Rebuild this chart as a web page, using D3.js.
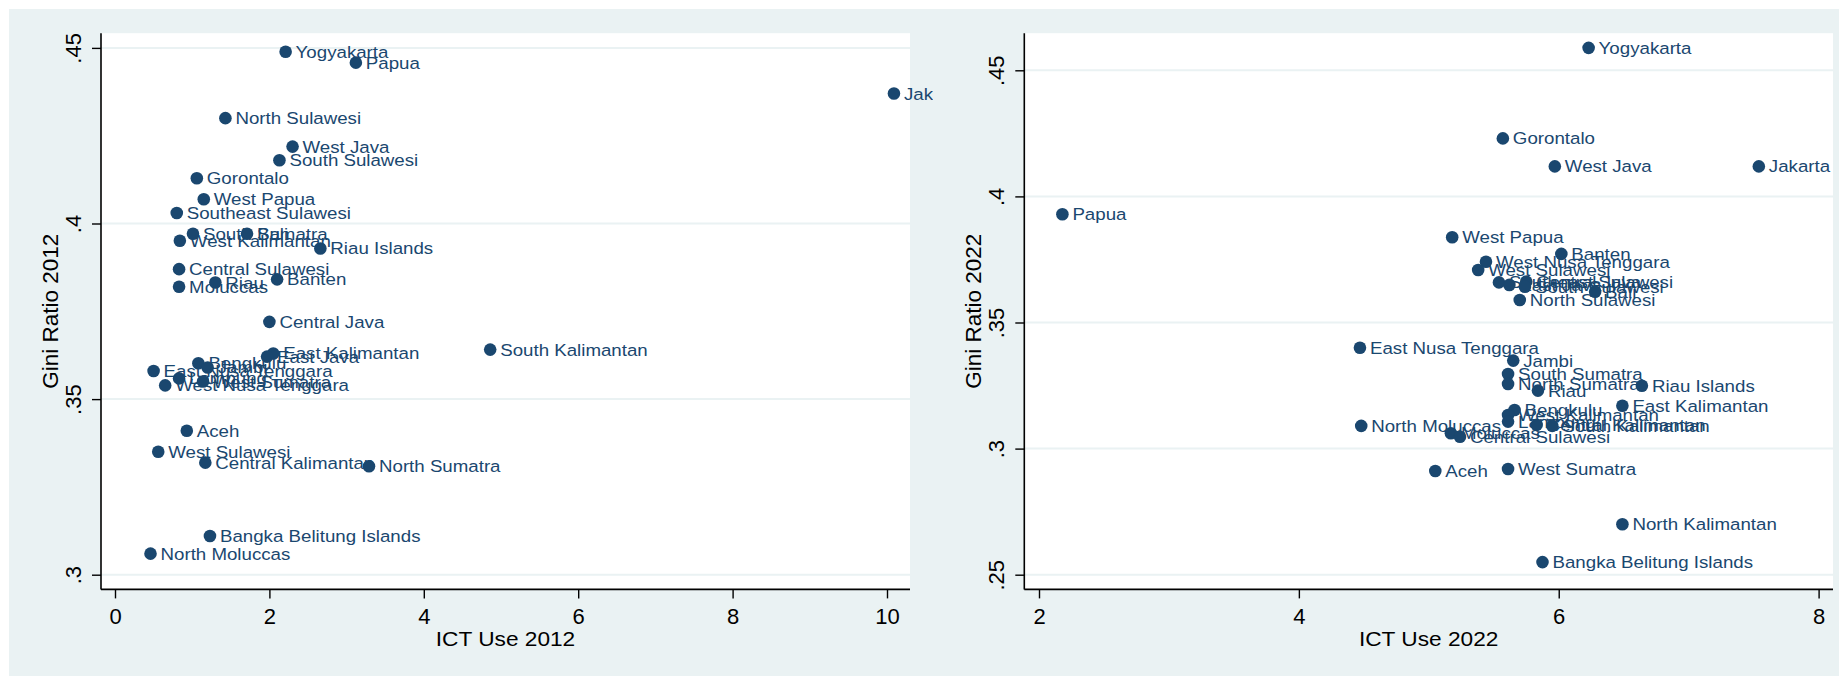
<!DOCTYPE html>
<html>
<head>
<meta charset="utf-8">
<script src="https://cdn.jsdelivr.net/npm/d3@7"></script>
<style>
  html, body { margin: 0; padding: 0; background: #ffffff; }
  svg { display: block; }
  text { font-family: "Liberation Sans", Arial, sans-serif; }
</style>
</head>
<body>
<svg id="chart" width="1839" height="676"></svg>
<script>
// ---- 2012 panel data ----
const provinces2012 = [
  "Yogyakarta", "Papua", "Jakarta", "North Sulawesi", "West Java", "South Sulawesi",
  "Gorontalo", "West Papua", "Southeast Sulawesi", "South Sumatra", "Bali",
  "West Kalimantan", "Riau Islands", "Central Sulawesi", "Riau", "Moluccas", "Banten",
  "Central Java", "East Kalimantan", "East Java", "South Kalimantan", "Bengkulu",
  "Jambi", "East Nusa Tenggara", "Lampung", "West Sumatra", "West Nusa Tenggara",
  "Aceh", "West Sulawesi", "Central Kalimantan", "North Sumatra",
  "Bangka Belitung Islands", "North Moluccas"
];
const ict2012 = [
  2.21, 3.12, 10.09, 1.43, 2.30, 2.13,
  1.06, 1.15, 0.80, 1.01, 1.71,
  0.84, 2.66, 0.83, 1.30, 0.83, 2.10,
  2.00, 2.05, 1.97, 4.86, 1.08,
  1.20, 0.50, 0.83, 1.14, 0.65,
  0.93, 0.56, 1.17, 3.29,
  1.23, 0.46
];
const gini2012 = [
  0.4489, 0.4458, 0.4370, 0.4300, 0.4219, 0.4180,
  0.4129, 0.4069, 0.4030, 0.3971, 0.3971,
  0.3951, 0.3929, 0.3870, 0.3832, 0.3820, 0.3841,
  0.3720, 0.3630, 0.3621, 0.3641, 0.3602,
  0.3590, 0.3580, 0.3559, 0.3550, 0.3539,
  0.3410, 0.3350, 0.3319, 0.3309,
  0.3110, 0.3060
];

// ---- 2022 panel data ----
const provinces2022 = [
  "Yogyakarta", "Gorontalo", "West Java", "Jakarta", "Papua", "West Papua", "Banten",
  "West Nusa Tenggara", "West Sulawesi", "Southeast Sulawesi", "East Java",
  "Central Java", "South Sulawesi", "Bali", "North Sulawesi", "East Nusa Tenggara",
  "Jambi", "South Sumatra", "North Sumatra", "Riau", "Riau Islands", "East Kalimantan",
  "Bengkulu", "West Kalimantan", "Lampung", "Central Kalimantan", "South Kalimantan",
  "North Moluccas", "Moluccas", "Central Sulawesi", "Aceh", "West Sumatra",
  "North Kalimantan", "Bangka Belitung Islands"
];
const ict2022 = [
  6.23, 5.57, 5.97, 7.54, 2.18, 5.18, 6.02,
  5.44, 5.38, 5.54, 5.62,
  5.75, 5.74, 6.28, 5.70, 4.47,
  5.65, 5.61, 5.61, 5.84, 6.64, 6.49,
  5.66, 5.61, 5.61, 5.83, 5.95,
  4.48, 5.17, 5.24, 5.05, 5.61,
  6.49, 5.875
];
const gini2022 = [
  0.4589, 0.4230, 0.4119, 0.4119, 0.3929, 0.3838, 0.3772,
  0.3741, 0.3708, 0.3659, 0.3649,
  0.3662, 0.3642, 0.3622, 0.3589, 0.3400,
  0.3349, 0.3296, 0.3256, 0.3230, 0.3249, 0.3170,
  0.3153, 0.3133, 0.3107, 0.3094, 0.3090,
  0.3090, 0.3061, 0.3047, 0.2911, 0.2919,
  0.2700, 0.2550
];

// ---- axis ticks ----
const xTicks2012 = [0, 2, 4, 6, 8, 10];
const yTicks2012 = [0.30, 0.35, 0.40, 0.45];
const yTickLabels2012 = [".3", ".35", ".4", ".45"];
const xTicks2022 = [2, 4, 6, 8];
const yTicks2022 = [0.25, 0.30, 0.35, 0.40, 0.45];
const yTickLabels2022 = [".25", ".3", ".35", ".4", ".45"];

const BG = "#eaf2f3";
const NAVY = "#1a476f";

const svg = d3.select("#chart");

function drawPanel(cfg) {
  const g = svg.append("g");
  const clipId = "clip-" + cfg.id;
  svg.append("defs").append("clipPath").attr("id", clipId)
    .append("rect").attr("x", cfg.bgX0).attr("y", cfg.bgY0)
    .attr("width", cfg.bgX1 - cfg.bgX0).attr("height", cfg.bgY1 - cfg.bgY0);
  g.attr("clip-path", `url(#${clipId})`);

  // graph region
  g.append("rect")
    .attr("x", cfg.bgX0).attr("y", cfg.bgY0)
    .attr("width", cfg.bgX1 - cfg.bgX0).attr("height", cfg.bgY1 - cfg.bgY0)
    .attr("fill", BG);

  // plot region
  g.append("rect")
    .attr("x", cfg.plotX0).attr("y", cfg.plotY0)
    .attr("width", cfg.plotX1 - cfg.plotX0).attr("height", cfg.plotY1 - cfg.plotY0)
    .attr("fill", "#ffffff");

  const x = d3.scaleLinear().domain(cfg.xDom).range(cfg.xRange);
  const y = d3.scaleLinear().domain(cfg.yDom).range(cfg.yRange);

  // horizontal gridlines
  g.append("g").selectAll("line").data(cfg.yTicks).join("line")
    .attr("x1", cfg.plotX0).attr("x2", cfg.plotX1)
    .attr("y1", d => y(d)).attr("y2", d => y(d))
    .attr("stroke", BG).attr("stroke-width", 2);

  // y axis
  const yAxis = d3.axisLeft(y).tickValues(cfg.yTicks).tickSize(9)
    .tickFormat((d, i) => cfg.yTickLabels[i]);
  const ya = g.append("g").attr("transform", `translate(${cfg.plotX0},0)`).call(yAxis);
  ya.select(".domain").attr("d", `M0,${cfg.plotY0}V${cfg.plotY1}`)
    .attr("stroke", "#000").attr("stroke-width", 1.6);
  ya.selectAll(".tick line").attr("stroke", "#000").attr("stroke-width", 1.4);
  ya.selectAll(".tick text")
    .attr("x", null).attr("dy", null)
    .attr("transform", "translate(-20,0) rotate(-90)")
    .attr("text-anchor", "middle")
    .attr("font-size", 22).attr("fill", "#000")
    .style("font-family", '"Liberation Sans", Arial, sans-serif');

  // x axis
  const xAxis = d3.axisBottom(x).tickValues(cfg.xTicks).tickSize(9).tickFormat(d3.format("d"));
  const xa = g.append("g").attr("transform", `translate(0,${cfg.plotY1})`).call(xAxis);
  xa.select(".domain").attr("d", `M${cfg.plotX0},0H${cfg.plotX1}`)
    .attr("stroke", "#000").attr("stroke-width", 1.6);
  xa.selectAll(".tick line").attr("stroke", "#000").attr("stroke-width", 1.4);
  xa.selectAll(".tick text")
    .attr("y", 35).attr("dy", null)
    .attr("font-size", 22).attr("fill", "#000")
    .style("font-family", '"Liberation Sans", Arial, sans-serif');

  // axis titles
  g.append("text")
    .attr("transform", `translate(${(cfg.plotX0 + cfg.plotX1) / 2},${cfg.plotY1 + 57}) scale(1.08,1)`)
    .attr("text-anchor", "middle").attr("font-size", 21).attr("fill", "#000")
    .text(cfg.xTitle);
  g.append("text")
    .attr("transform", `translate(${cfg.plotX0 - 43},${(cfg.plotY0 + cfg.plotY1) / 2}) rotate(-90)`)
    .attr("text-anchor", "middle").attr("font-size", 22.5).attr("fill", "#000")
    .text(cfg.yTitle);

  // markers
  const pts = cfg.names.map((n, i) => ({ name: n, xv: cfg.xs[i], yv: cfg.ys[i] }));
  g.append("g").selectAll("circle").data(pts).join("circle")
    .attr("cx", d => x(d.xv)).attr("cy", d => y(d.yv))
    .attr("r", 6.3).attr("fill", NAVY);

  // marker labels
  g.append("g").selectAll("text").data(pts).join("text")
    .attr("transform", d => `translate(${x(d.xv) + 10},${y(d.yv) + 6}) scale(1.1,1)`)
    .attr("font-size", 17).attr("fill", NAVY)
    .text(d => d.name);
}

drawPanel({
  id: "p2012",
  bgX0: 9, bgX1: 933, bgY0: 9, bgY1: 676,
  plotX0: 101, plotX1: 910, plotY0: 33.2, plotY1: 589.4,
  xDom: [0, 10], xRange: [115, 887],
  yDom: [0.30, 0.45], yRange: [574.7, 47.9],
  xTicks: xTicks2012, yTicks: yTicks2012, yTickLabels: yTickLabels2012,
  xTitle: "ICT Use 2012", yTitle: "Gini Ratio 2012",
  names: provinces2012, xs: ict2012, ys: gini2012
});

drawPanel({
  id: "p2022",
  bgX0: 933, bgX1: 1839, bgY0: 9, bgY1: 676,
  plotX0: 1024.3, plotX1: 1833, plotY0: 33.2, plotY1: 589.4,
  xDom: [2, 8], xRange: [1039, 1818.6],
  yDom: [0.25, 0.45], yRange: [574.7, 70.3],
  xTicks: xTicks2022, yTicks: yTicks2022, yTickLabels: yTickLabels2022,
  xTitle: "ICT Use 2022", yTitle: "Gini Ratio 2022",
  names: provinces2022, xs: ict2022, ys: gini2022
});
</script>
</body>
</html>
